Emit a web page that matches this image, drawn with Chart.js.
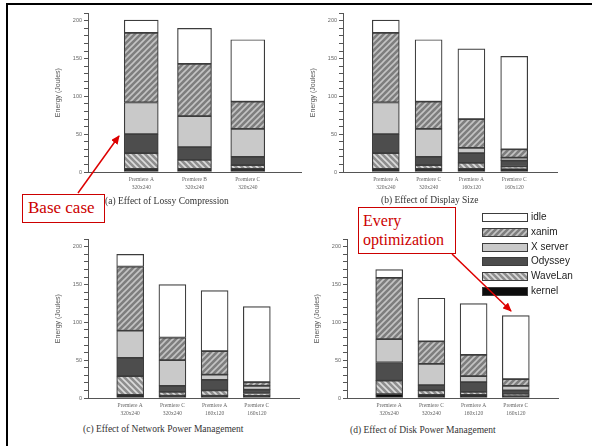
<!DOCTYPE html>
<html>
<head>
<meta charset="utf-8">
<script src="https://cdn.jsdelivr.net/npm/chart.js@4.4.1/dist/chart.umd.min.js"></script>
<style>
  body { margin: 0; width: 592px; height: 446px; background: #fff; position: relative; overflow: hidden; font-family: "Liberation Serif", serif; }
  canvas.panel { position: absolute; }
  .cap { position: absolute; font-size: 9.5px; color: #333; white-space: nowrap; }
  .frame { position: absolute; background: #000; }
  .note { position: absolute; border: 1.5px solid #c00; color: #c00; background: #fff; font-family: "Liberation Serif", serif; box-sizing: border-box; z-index: 5; }
  .leg { position: absolute; font-family: "Liberation Sans", Arial, sans-serif; font-size: 10px; color: #222; line-height: 10px; }
  .leg canvas { position: absolute; }
</style>
</head>
<body>
<div class="frame" style="left:6px;top:3px;width:586px;height:2px"></div>
<div class="frame" style="left:6px;top:3px;width:2px;height:443px"></div>

<canvas class="panel" id="chartA" width="255" height="190" style="left:50px;top:8px"></canvas>
<canvas class="panel" id="chartB" width="256" height="190" style="left:305px;top:8px"></canvas>
<canvas class="panel" id="chartC" width="253" height="190" style="left:50px;top:234px"></canvas>
<canvas class="panel" id="chartD" width="253" height="190" style="left:309px;top:234px"></canvas>

<div class="cap" style="left:105px;top:196px">(a) Effect of Lossy Compression</div>
<div class="cap" style="left:381px;top:195px">(b) Effect of Display Size</div>
<div class="cap" style="left:83px;top:424px">(c) Effect of Network Power Management</div>
<div class="cap" style="left:350px;top:425px">(d) Effect of Disk Power Management</div>

<div id="legend"></div>

<div class="note" style="left:22px;top:194px;width:83px;height:29px;font-size:17px;line-height:26px;padding-left:5px">Base case</div>
<div class="note" style="left:358px;top:207px;width:98px;height:47px;font-size:16px;line-height:19px;padding:3px 0 0 4px">Every<br>optimization</div>

<svg width="592" height="446" style="position:absolute;left:0;top:0;z-index:6;pointer-events:none">
  <defs>
    <marker id="ah" markerWidth="9" markerHeight="8" refX="8" refY="4" orient="auto" markerUnits="userSpaceOnUse">
      <path d="M0,0 L9,4 L0,8 z" fill="#d00"/>
    </marker>
  </defs>
  <line x1="78" y1="193" x2="119" y2="136" stroke="#d00" stroke-width="1.5" marker-end="url(#ah)"/>
  <line x1="452" y1="254" x2="511" y2="311" stroke="#d00" stroke-width="1.5" marker-end="url(#ah)"/>
</svg>

<script>
// stack order, bottom to top
const seriesNames = ['kernel', 'WaveLan', 'Odyssey', 'X server', 'xanim', 'idle'];
const legendOrder = ['idle', 'xanim', 'X server', 'Odyssey', 'WaveLan', 'kernel'];

// (a) Effect of Lossy Compression
const catsA = [['Premiere A', '320x240'], ['Premiere B', '320x240'], ['Premiere C', '320x240']];
const kernelA = [4, 4, 4];
const waveA = [21, 12, 5];
const odyA = [25, 17, 11];
const xsrvA = [42, 41, 37];
const xanimA = [92, 69, 36];
const idleA = [17, 47, 82];

// (b) Effect of Display Size
const catsB = [['Premiere A', '320x240'], ['Premiere C', '320x240'], ['Premiere A', '160x120'], ['Premiere C', '160x120']];
const kernelB = [4, 4, 4, 4];
const waveB = [21, 5, 8, 3];
const odyB = [25, 11, 13, 8];
const xsrvB = [42, 37, 7, 4];
const xanimB = [92, 36, 38, 11];
const idleB = [17, 82, 93, 123];

// (c) Effect of Network Power Management
const catsC = catsB;
const kernelC = [4, 3, 3, 3];
const waveC = [25, 5, 7, 3];
const odyC = [24, 8, 14, 5];
const xsrvC = [36, 34, 7, 5];
const xanimC = [85, 30, 31, 5];
const idleC = [16, 70, 80, 100];

// (d) Effect of Disk Power Management
const catsD = catsB;
const kernelD = [5, 4, 4, 3];
const waveD = [18, 6, 4, 2];
const odyD = [24, 7, 13, 5];
const xsrvD = [31, 28, 8, 6];
const xanimD = [81, 30, 28, 9];
const idleD = [11, 57, 68, 84];

const yTicks = [0, 50, 100, 150, 200];
const yMax = 210;

function makePattern(base, stripe, dir) {
  const c = document.createElement('canvas');
  c.width = c.height = 6;
  const g = c.getContext('2d');
  g.fillStyle = base;
  g.fillRect(0, 0, 6, 6);
  g.strokeStyle = stripe;
  g.lineWidth = 1.6;
  g.beginPath();
  if (dir === '/') {
    g.moveTo(-1, 7); g.lineTo(7, -1);
    g.moveTo(-1, 1); g.lineTo(1, -1);
    g.moveTo(5, 7); g.lineTo(7, 5);
  } else {
    g.moveTo(-1, -1); g.lineTo(7, 7);
    g.moveTo(5, -1); g.lineTo(7, 1);
    g.moveTo(-1, 5); g.lineTo(1, 7);
  }
  g.stroke();
  return g.createPattern(c, 'repeat');
}

const fills = {
  'idle': '#ffffff',
  'xanim': makePattern('#7e7e7e', '#c4c4c4', '/'),
  'X server': '#c9c9c9',
  'Odyssey': '#4d4d4d',
  'WaveLan': makePattern('#8e8e8e', '#dcdcdc', '\\'),
  'kernel': '#0d0d0d'
};

// pad with blank categories on both sides so the bars sit inside the axis
const pad = arr => [null, ...arr, null];

function makeChart(id, cats, values, barW, rightPad) {
  const labels = ['', ...cats, ''];
  new Chart(document.getElementById(id), {
    type: 'bar',
    data: {
      labels,
      datasets: seriesNames.map((name, i) => ({
        label: name,
        data: pad(values[i]),
        backgroundColor: fills[name],
        borderColor: '#3c3c3c',
        borderWidth: 1.2,
        borderSkipped: false,
        barThickness: barW
      }))
    },
    options: {
      responsive: false,
      animation: false,
      layout: { padding: { top: 4.4, right: rightPad, left: 0, bottom: 0 } },
      plugins: { legend: { display: false }, tooltip: { enabled: false } },
      scales: {
        x: {
          stacked: true,
          offset: false,
          afterFit: s => { s.height = 26; },
          grid: { display: false, drawTicks: false },
          border: { display: true, color: '#555', width: 1 },
          ticks: {
            autoSkip: false, maxRotation: 0, padding: 4,
            color: '#666', font: { family: 'Liberation Serif', size: 5.5, lineHeight: 1.45 }
          }
        },
        y: {
          stacked: true,
          min: 0, max: yMax,
          afterFit: s => { s.width = 38; },
          grid: { display: true, drawOnChartArea: false, tickLength: 4, tickColor: '#555' },
          border: { display: true, color: '#555', width: 1 },
          ticks: {
            stepSize: 10, autoSkip: false, maxTicksLimit: 40, padding: 2,
            color: '#666', font: { family: 'Liberation Sans', size: 5.5 },
            callback: v => yTicks.includes(v) ? String(v) : ''
          },
          title: {
            display: true, text: 'Energy (Joules)', color: '#555',
            font: { family: 'Liberation Sans', size: 7 }
          }
        }
      }
    }
  });
}

makeChart('chartA', catsA, [kernelA, waveA, odyA, xsrvA, xanimA, idleA], 34, 3);
makeChart('chartB', catsB, [kernelB, waveB, odyB, xsrvB, xanimB, idleB], 27, 3);
makeChart('chartC', catsC, [kernelC, waveC, odyC, xsrvC, xanimC, idleC], 27, 3);
makeChart('chartD', catsD, [kernelD, waveD, odyD, xsrvD, xanimD, idleD], 27, 3);

// legend between the lower panels
const legend = document.getElementById('legend');
const rowY = [217, 232, 247, 261, 276, 291];
legendOrder.forEach((name, i) => {
  const sw = document.createElement('canvas');
  sw.width = 46; sw.height = 9;
  sw.style.cssText = `position:absolute;left:482px;top:${rowY[i] - 4.5}px`;
  const g = sw.getContext('2d');
  g.fillStyle = fills[name];
  g.fillRect(0.5, 0.5, 45, 8);
  g.strokeStyle = '#3c3c3c';
  g.lineWidth = 1;
  g.strokeRect(0.5, 0.5, 45, 8);
  legend.appendChild(sw);
  const t = document.createElement('div');
  t.className = 'leg';
  t.style.cssText = `left:531px;top:${rowY[i] - 5.5}px`;
  t.textContent = name;
  legend.appendChild(t);
});
</script>
</body>
</html>
